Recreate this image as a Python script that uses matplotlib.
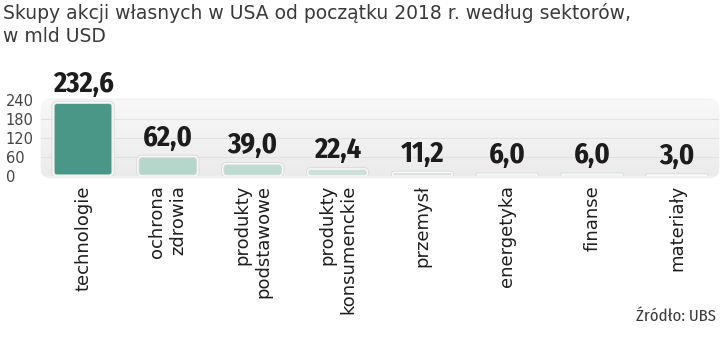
import numpy as np
import matplotlib.pyplot as plt
from matplotlib.patches import FancyBboxPatch
from matplotlib.colors import LinearSegmentedColormap
from matplotlib import font_manager

# dane
sektory = ["technologie", "ochrona\nzdrowia", "produkty\npodstawowe",
           "produkty\nkonsumenckie", "przemysł", "energetyka", "finanse", "materiały"]
wartosci = [232.6, 62.0, 39.0, 22.4, 11.2, 6.0, 6.0, 3.0]
kolory = ["#4a9787", "#b5d6ca", "#bddbd0", "#c9e2d8", "#f3f6f5", "#e9eeec", "#e9eeec", "#e9eeec"]
yticks = [0, 60, 120, 180, 240]

names = {f.name for f in font_manager.fontManager.ttflist}
def pick(*cands):
    for c in cands:
        if c in names:
            return c
    return "DejaVu Sans"

f_liczby = pick("Fira Sans Condensed", "Roboto Condensed", "Archivo Narrow", "Barlow Semi Condensed")
f_zrodlo = pick("Fira Sans Condensed", "Archivo Narrow", "Roboto Condensed")

W, H = 720, 337
fig = plt.figure(figsize=(W / 100, H / 100), dpi=100)
ax_l, ax_r, ax_b, ax_t = 40.6, 719.4, 176, 100
ax = fig.add_axes([ax_l / W, 1 - ax_b / H, (ax_r - ax_l) / W, (ax_b - ax_t) / H])
ax.set_xlim(-0.5, 7.5)
ax.set_ylim(0, 240)
ax.set_facecolor("none")
for s in ax.spines.values():
    s.set_visible(False)

# tlo panelu z gradientem
panel = FancyBboxPatch((0.0, -0.03), 1.0, 1.05, boxstyle="round,pad=0,rounding_size=0.015",
                       mutation_aspect=(ax_r - ax_l) / (ax_b - ax_t),
                       transform=ax.transAxes, facecolor="#f1f1f1", edgecolor="none",
                       zorder=0, clip_on=False)
ax.add_patch(panel)
grad = np.linspace(0, 1, 100).reshape(-1, 1)
im = ax.imshow(grad, extent=(0, 1, -0.03, 1.02), transform=ax.transAxes, aspect="auto",
               cmap=LinearSegmentedColormap.from_list("g", ["#ebebeb", "#f8f8f8"]),
               origin="lower", zorder=0.5)
im.set_clip_path(panel)

for y in yticks[1:-1]:
    ax.axhline(y, color="#e1e1e1", lw=0.8, zorder=1)

# slupki z zaokraglonymi rogami
px_x = (ax_r - ax_l) / 8
px_y = (ax_b - ax_t) / 240
asp = px_x / px_y
w = 0.707
for i, (v, c) in enumerate(zip(wartosci, kolory)):
    r = min(0.05, v / asp / 2)
    p = FancyBboxPatch((i - w / 2, 0), w, v, boxstyle=f"round,pad=0,rounding_size={r}",
                       mutation_aspect=asp, facecolor=c, edgecolor="#d9dcdb", lw=2.4, zorder=2)
    ax.add_patch(p)
    p2 = FancyBboxPatch((i - w / 2, 0), w, v, boxstyle=f"round,pad=0,rounding_size={r}",
                        mutation_aspect=asp, facecolor="none", edgecolor="#fbfbfb", lw=1.0, zorder=3)
    ax.add_patch(p2)
    ax.annotate(f"{v:.1f}".replace(".", ","), (i, v), xytext=(0, 3), textcoords="offset points",
                ha="center", va="bottom", fontsize=20.5, fontweight="bold", family=f_liczby,
                color="#1c1c1c", zorder=4)

ax.set_yticks(yticks)
ax.set_yticklabels([str(t) for t in yticks], ha="left", fontsize=10.5, color="#444444")
ax.tick_params(axis="y", length=0, pad=25)
ax.set_xticks(range(len(sektory)))
ax.set_xticklabels(sektory, rotation=90, va="top", ha="center", multialignment="right",
                   fontsize=13, color="#1e1e1e")
ax.tick_params(axis="x", length=0, pad=6.5)

fig.text(3 / W, 1 - 3 / H, "Skupy akcji własnych w USA od początku 2018 r. według sektorów,\nw mld USD",
         ha="left", va="top", fontsize=13.5, color="#3a3a3a", linespacing=1.3)
fig.text(716 / W, 1 - 321 / H, "Źródło: UBS", ha="right", va="baseline", fontsize=12,
         family=f_zrodlo, fontweight="normal", color="#3a3a3a")

fig.savefig("out.png", dpi=100)
